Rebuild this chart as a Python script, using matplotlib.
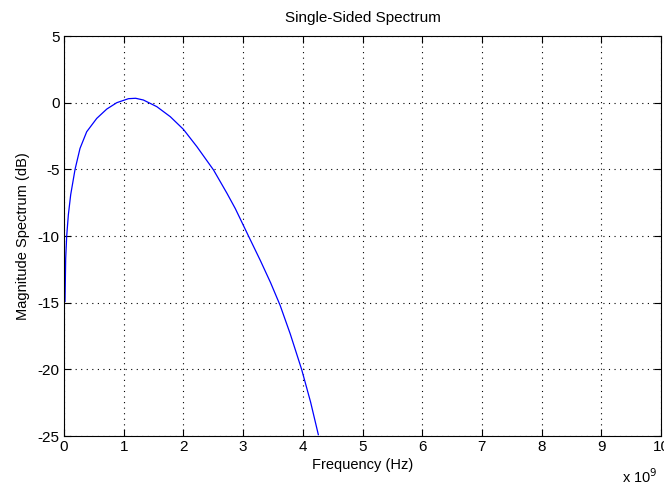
import matplotlib
matplotlib.use('Agg')
import matplotlib.pyplot as plt
import numpy as np

plt.rcParams['font.family'] = ['Liberation Sans', 'DejaVu Sans']

# frequency in units of 1e9 Hz, magnitude in dB
freq = [0.017, 0.028, 0.045, 0.073, 0.112, 0.185, 0.268, 0.38, 0.548, 0.716,
        0.884, 1.08, 1.2, 1.33, 1.555, 1.78, 2.0, 2.226, 2.505, 2.73,
        2.87, 3.09, 3.29, 3.46, 3.62, 3.79, 3.98, 4.13, 4.26]
mag_db = [-14.9, -11.7, -10.0, -8.4, -6.9, -5.0, -3.43, -2.18, -1.18, -0.48,
          0.0, 0.3, 0.33, 0.2, -0.3, -1.05, -2.0, -3.3, -5.05, -6.8,
          -7.95, -10.0, -11.85, -13.5, -15.2, -17.35, -20.0, -22.45, -24.9]

x_ticks = list(range(0, 11))
y_ticks = [-25, -20, -15, -10, -5, 0, 5]

fig = plt.figure(figsize=(6.64, 4.9), dpi=100)
ax = fig.add_axes([0.0964, 0.1102, 0.8991, 0.8163])

ax.plot(freq, mag_db, color='#0000ff', linewidth=0.9)

ax.set_xlim(0, 10)
ax.set_ylim(-25, 5)
ax.set_xticks(x_ticks)
ax.set_yticks(y_ticks)
ax.set_xticklabels([str(t) for t in x_ticks])
ax.set_yticklabels([str(t) for t in y_ticks])
ax.grid(True, color='black', linestyle=(0, (1, 4)), linewidth=0.8)
ax.tick_params(direction='in', length=5, width=0.8, top=True, right=True,
               labelsize=11, colors='black', pad=3)
for s in ax.spines.values():
    s.set_linewidth(0.8)

ax.set_title('Single-Sided Spectrum', fontsize=11, pad=10)
ax.set_xlabel('Frequency (Hz)', fontsize=10.5, labelpad=3)
ax.set_ylabel('Magnitude Spectrum (dB)', fontsize=10.5, labelpad=6)
fig.text(0.99, 0.014, r'x 10$^{9}$', fontsize=10.5, ha='right', va='baseline')

fig.savefig('out.png', dpi=100)
